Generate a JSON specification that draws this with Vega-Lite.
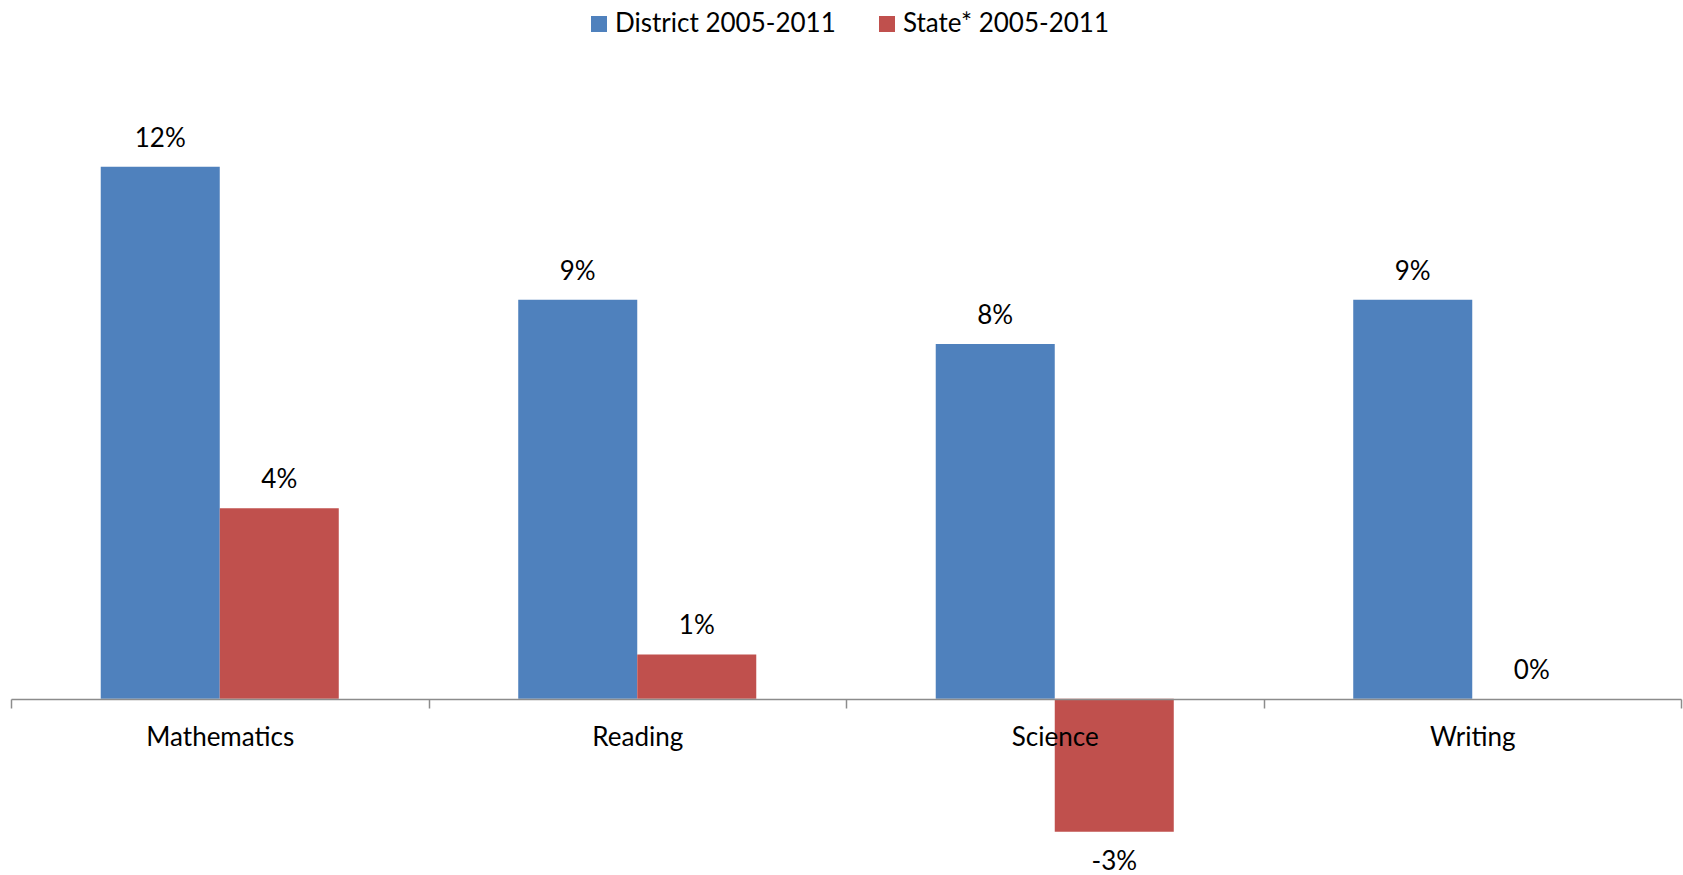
{
  "$schema": "https://vega.github.io/schema/vega-lite/v6.json",
  "width": 1670,
  "height": 776,
  "autosize": {"type": "none"},
  "padding": {"left": 11, "top": 78, "right": 2, "bottom": 21},
  "background": "white",
  "config": {
    "view": {"stroke": null},
    "font": "Lato",
    "text": {"font": "Lato"},
    "locale": {
      "number": {
        "decimal": ".",
        "thousands": ",",
        "grouping": [3],
        "currency": ["$", ""],
        "minus": "-"
      }
    }
  },
  "data": {
    "values": [
      {"subject": "Mathematics", "series": "District 2005-2011", "value": 0.12},
      {"subject": "Mathematics", "series": "State* 2005-2011", "value": 0.043},
      {"subject": "Reading", "series": "District 2005-2011", "value": 0.09},
      {"subject": "Reading", "series": "State* 2005-2011", "value": 0.01},
      {"subject": "Science", "series": "District 2005-2011", "value": 0.08},
      {"subject": "Science", "series": "State* 2005-2011", "value": -0.03},
      {"subject": "Writing", "series": "District 2005-2011", "value": 0.09},
      {"subject": "Writing", "series": "State* 2005-2011", "value": 0.0}
    ]
  },
  "encoding": {
    "x": {
      "field": "subject",
      "type": "nominal",
      "sort": null,
      "scale": {"paddingInner": 0, "paddingOuter": 0},
      "axis": {
        "title": null,
        "orient": "bottom",
        "offset": -155,
        "labelAngle": 0,
        "labelFont": "Lato",
        "labelFontSize": 26,
        "labelColor": "#000000",
        "labelBaseline": "alphabetic",
        "labelPadding": 37,
        "tickBand": "extent",
        "tickSize": 9,
        "tickColor": "#8c8c8c",
        "domainColor": "#8c8c8c",
        "domainWidth": 1.5,
        "tickWidth": 1.5,
        "grid": false,
        "zindex": 1
      }
    },
    "xOffset": {
      "field": "series",
      "type": "nominal",
      "scale": {"paddingInner": 0, "paddingOuter": 0.754}
    },
    "y": {
      "field": "value",
      "type": "quantitative",
      "scale": {"domain": [-0.035, 0.14], "nice": false, "zero": true},
      "axis": null
    }
  },
  "layer": [
    {
      "mark": {"type": "bar"},
      "encoding": {
        "color": {
          "field": "series",
          "type": "nominal",
          "scale": {
            "domain": ["District 2005-2011", "State* 2005-2011"],
            "range": ["#4F81BD", "#C0504D"]
          },
          "legend": {
            "title": null,
            "orient": "none",
            "direction": "horizontal",
            "legendX": 575,
            "legendY": -67,
            "padding": 0,
            "symbolType": "square",
            "symbolSize": 256,
            "symbolStrokeWidth": 0,
            "symbolOpacity": 1,
            "labelFont": "Lato",
            "labelFontSize": 26,
            "labelColor": "#000000",
            "labelOffset": 3,
            "labelLimit": 0,
            "columnPadding": 38
          }
        }
      }
    },
    {
      "transform": [{"filter": "datum.value >= 0"}],
      "mark": {"type": "text", "baseline": "middle", "dy": -28, "fontSize": 26, "color": "#000000"},
      "encoding": {
        "text": {"field": "value", "type": "quantitative", "format": ".0%"}
      }
    },
    {
      "transform": [{"filter": "datum.value < 0"}],
      "mark": {"type": "text", "baseline": "middle", "dy": 30, "fontSize": 26, "color": "#000000"},
      "encoding": {
        "text": {"field": "value", "type": "quantitative", "format": ".0%"}
      }
    }
  ]
}
